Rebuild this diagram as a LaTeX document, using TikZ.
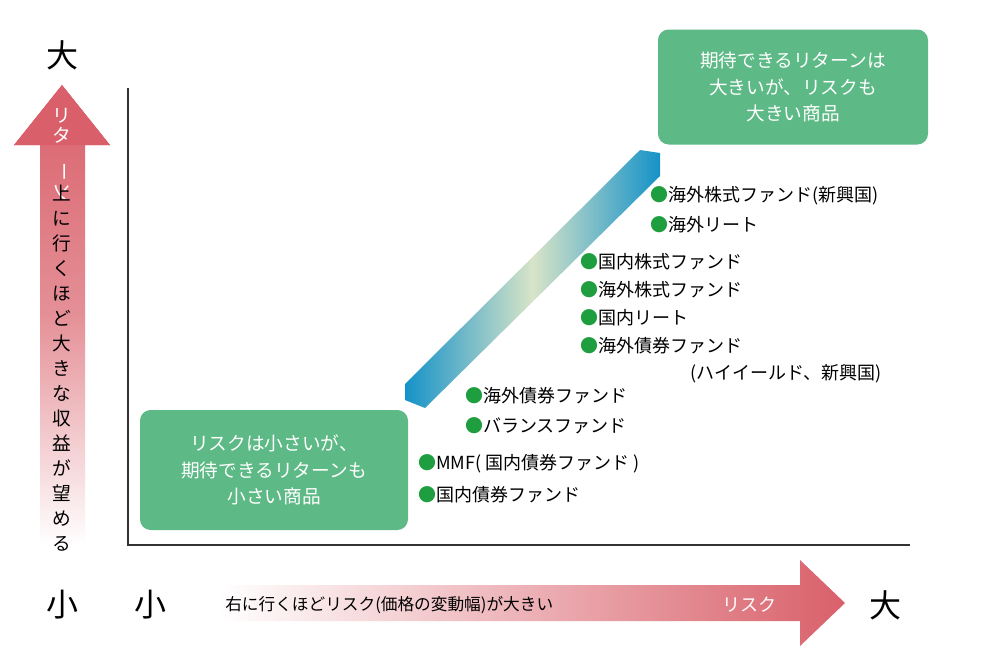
\documentclass[tikz,border=0pt]{standalone}
\usepackage{fontspec}
\setmainfont{Noto Sans CJK JP}
\usetikzlibrary{calc}
\definecolor{boxg}{HTML}{5DB985}
\definecolor{dotg}{HTML}{1E9E3E}
\definecolor{arrred}{HTML}{D9606A}
\definecolor{bandb}{HTML}{1592C8}
\definecolor{bandp}{HTML}{D8E4C8}
\tikzset{
  item/.style={anchor=west,font=\fontsize{13.5pt}{15pt}\selectfont,inner sep=0pt},
  gbox/.style={fill=boxg,rounded corners=8pt,text=white,align=center,font=\fontsize{14pt}{20pt}\selectfont},
  big/.style={font=\fontsize{24pt}{26pt}\selectfont}
}
\newcommand{\itm}[1]{\textcolor{dotg}{●}#1}
\begin{document}
\begin{tikzpicture}[x=0.75pt,y=-0.75pt]
\useasboundingbox (0,0) rectangle (1006,653);
\fill[white] (0,0) rectangle (1006,653);
% axes
\draw[black!80,line width=0.8pt] (128,88) -- (128,545) -- (910,545);
% left arrow
\shade[top color=arrred,bottom color=white,middle color=arrred!70]
 (40,545) -- (40,145) -- (14,145) -- (62,85) -- (110,145) -- (85,145) -- (85,545) -- cycle;
\fill[arrred] (40,145) -- (14,145) -- (62,85) -- (110,145) -- (85,145) -- cycle;
% bottom arrow
\shade[left color=white,right color=arrred,middle color=arrred!50]
 (220,585) -- (800,585) -- (800,560) -- (845,603) -- (800,646) -- (800,621) -- (220,621) -- cycle;
% band
\shade[left color=bandb,right color=bandb,middle color=bandp]
 (405,384) -- (640,150) -- (660,153) -- (660,176) -- (425,408) -- (405,400) -- cycle;
% boxes
\node[gbox,minimum width=268*0.75pt,minimum height=120*0.75pt] (lb) at (274,470) {リスクは小さいが、\\期待できるリターンも\\小さい商品};
\node[gbox,minimum width=270*0.75pt,minimum height=115*0.75pt] (rb) at (793,87) {期待できるリターンは\\大きいが、リスクも\\大きい商品};
% big labels
\node[big] (t1) at (62,55) {大};
\node[big] (t2) at (62,605) {小};
\node[big] (t3) at (150,605) {小};
\node[big] (t4) at (885,605) {大};
% vertical text
\node[align=center,font=\fontsize{14pt}{15pt}\selectfont,text=white,anchor=north,inner sep=0pt] (vt1) at (62,108)
 {リ\\タ\\\rotatebox{-90}{ー}\\\rotatebox{-90}{ン}};
\node[align=center,font=\fontsize{14pt}{18.75pt}\selectfont,anchor=north,inner sep=0pt] (vt2) at (62,185)
 {上\\に\\行\\く\\ほ\\ど\\大\\き\\な\\収\\益\\が\\望\\め\\る};
% bottom text
\node[anchor=west,font=\fontsize{12.5pt}{14pt}\selectfont,inner sep=0pt] (bt) at (225,605) {右に行くほどリスク(価格の変動幅)が大きい};
\node[anchor=west,font=\fontsize{13.5pt}{14pt}\selectfont,text=white,inner sep=0pt] (bt2) at (722,605) {リスク};
% items
\node[item] (i1) at (650,196) {\itm{海外株式ファンド(新興国)}};
\node[item] (i2) at (650,225) {\itm{海外リート}};
\node[item] (i3) at (580,262) {\itm{国内株式ファンド}};
\node[item] (i4) at (580,290) {\itm{海外株式ファンド}};
\node[item] (i5) at (580,318) {\itm{国内リート}};
\node[item] (i6) at (580,346) {\itm{海外債券ファンド}};
\node[item] (i7) at (690,374) {(ハイイールド、新興国)};
\node[item] (i8) at (465,396) {\itm{海外債券ファンド}};
\node[item] (i9) at (465,426) {\itm{バランスファンド}};
\node[item] (i10) at (418,464) {\itm{MMF( 国内債券ファンド )}};
\node[item] (i11) at (418,495) {\itm{国内債券ファンド}};
\end{tikzpicture}
\end{document}
